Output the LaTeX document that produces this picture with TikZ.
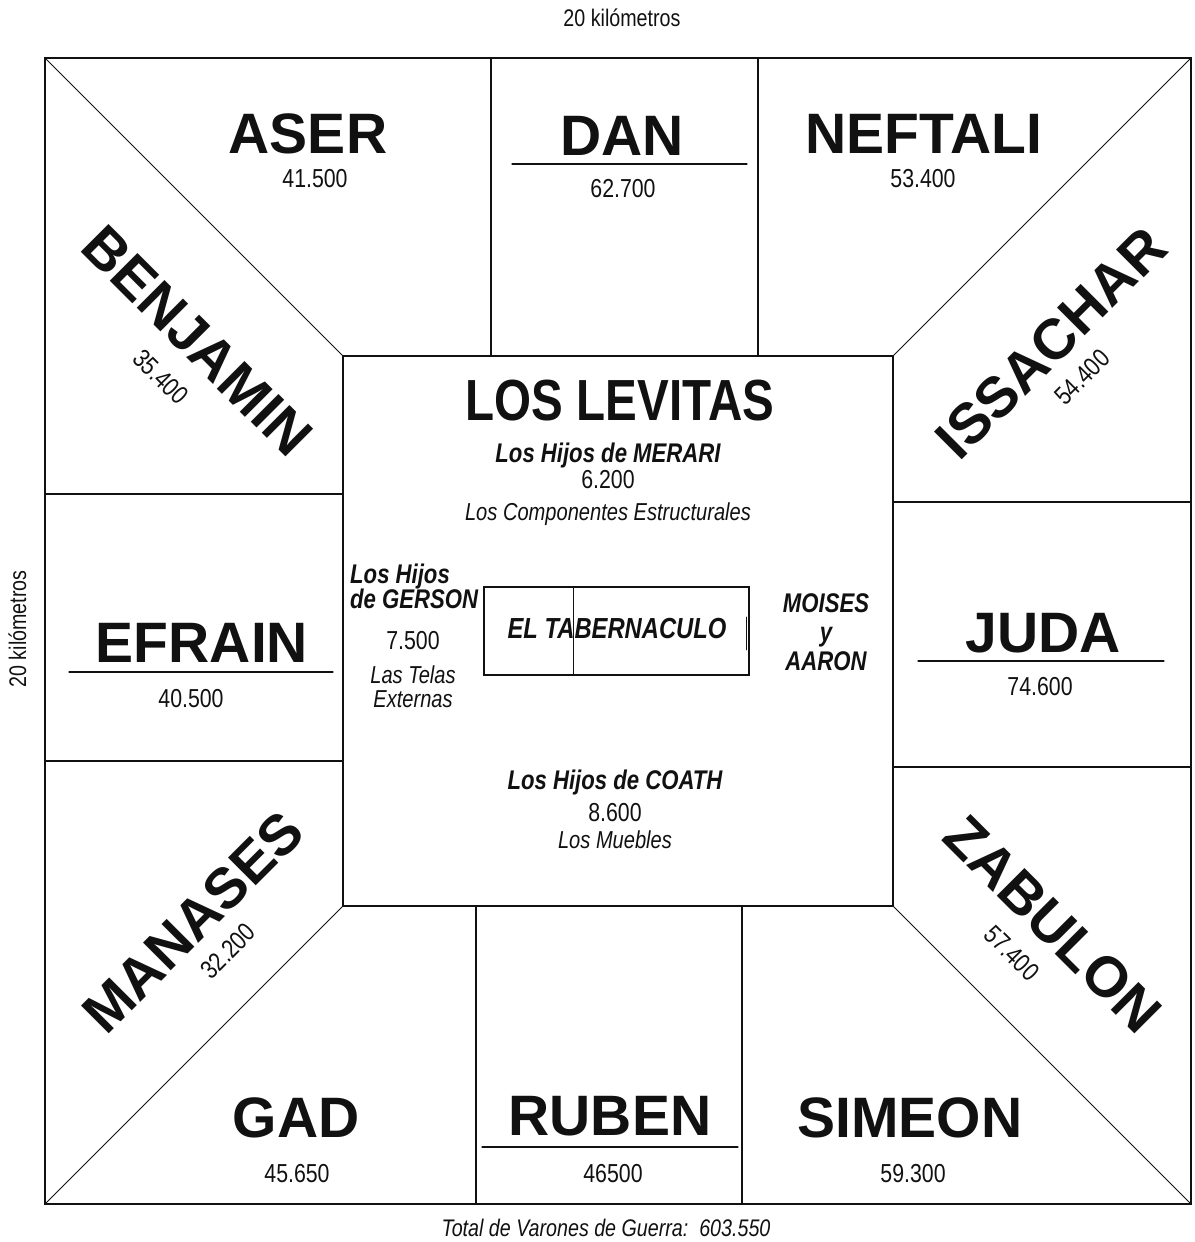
\documentclass[tikz,border=0pt]{standalone}
\usepackage{fontspec}
\setmainfont{Liberation Sans}
\newfontfamily\estreita[FakeStretch=0.82]{Liberation Sans}
\usepackage{tikz}
\usetikzlibrary{calc}
\definecolor{tinta}{HTML}{111111}

\tikzset{
  tribo/.style={font=\fontsize{57}{57}\selectfont\bfseries, inner sep=0pt, text=tinta},
  cifra/.style={font=\estreita\fontsize{26}{26}\selectfont, inner sep=0pt, text=tinta},
  levita/.style={font=\estreita\fontsize{27}{27}\selectfont\bfseries\itshape, inner sep=0pt, text=tinta},
  oficio/.style={font=\estreita\fontsize{24.5}{24.5}\selectfont\itshape, inner sep=0pt, text=tinta},
  medida/.style={font=\estreita\fontsize{24}{24}\selectfont, inner sep=0pt, text=tinta},
  muro/.style={draw=tinta, line width=1.3pt},
}

\begin{document}
\begin{tikzpicture}[x=1pt, y=-1pt, line cap=round]
  \useasboundingbox (0,0) rectangle (1194,1242);
  \coordinate (oNO) at (45,58);   \coordinate (oNE) at (1191,58);
  \coordinate (oSO) at (45,1204); \coordinate (oSE) at (1191,1204);
  \coordinate (iNO) at (343,356); \coordinate (iNE) at (893,356);
  \coordinate (iSO) at (343,906); \coordinate (iSE) at (893,906);
  \draw[tinta, line width=2pt] (oNO) rectangle (oSE);
  \draw[muro, line width=1.6pt] (iNO) rectangle (iSE);
  \foreach \a/\b in {oNO/iNO, oNE/iNE, oSO/iSO, oSE/iSE}{\draw[tinta, line width=1pt] (\a) -- (\b);}
  \foreach \x in {491,758}{\draw[muro] (\x,58) -- (\x,356);}
  \foreach \x in {476,742}{\draw[muro] (\x,906) -- (\x,1204);}
  \foreach \y in {494,761}{\draw[muro] (45,\y) -- (343,\y);}
  \foreach \y in {502,767}{\draw[muro] (893,\y) -- (1191,\y);}
  \foreach \xa/\xb/\y in {512/747/164, 69/333/672, 918/1164/661, 482/738/1147}{\draw[tinta, line width=1.1pt] (\xa,\y) -- (\xb,\y);}

  \foreach \nome/\x/\y/\num/\xn/\yn in {ASER/308/153/41.500/315/187, DAN/622/155/62.700/623/197,
      NEFTALI/924/153/53.400/923/187, EFRAIN/202/662/40.500/191/707, JUDA/1043/652/74.600/1040/695,
      GAD/296/1137/45.650/297/1182, RUBEN/610/1135/46500/613/1182, SIMEON/910/1137/59.300/913/1182}{
    \node[tribo, anchor=base] (\nome) at (\x,\y) {\nome};
    \node[cifra, anchor=base] (\nome-n) at (\xn,\yn) {\num};
  }
  \foreach \nome/\x/\y/\num/\xn/\yn/\ang in {BENJAMIN/197/341/35.400/161/377/-45, ISSACHAR/1051/343/54.400/1082/377/45,
      MANASES/193/922/32.200/228/951/45, ZABULON/1053/924/57.400/1012/953/-45}{
    \node[tribo, rotate=\ang] (\nome) at (\x,\y) {\nome};
    \node[cifra, rotate=\ang] (\nome-n) at (\xn,\yn) {\num};
  }

  \node[font=\estreita\fontsize{58}{58}\selectfont\bfseries, inner sep=0pt, text=tinta, anchor=base] (levitas) at (620,420) {LOS LEVITAS};
  \node[levita, anchor=base] (merari) at (608,462) {Los Hijos de MERARI};
  \node[cifra, anchor=base] (merari-n) at (608,488) {6.200};
  \node[oficio, anchor=base] (merari-o) at (608,520) {Los Componentes Estructurales};
  \node[levita, anchor=base west] (gerson-a) at (350,583) {Los Hijos};
  \node[levita, anchor=base west] (gerson-b) at (350,608) {de GERSON};
  \node[cifra, anchor=base] (gerson-n) at (413,649) {7.500};
  \node[oficio, anchor=base] (gerson-o) at (413,683) {Las Telas};
  \node[oficio, anchor=base] (gerson-p) at (413,707) {Externas};
  \node[levita, anchor=base] (moises) at (826,612) {MOISES};
  \node[levita, anchor=base] (moises-y) at (826,641) {y};
  \node[levita, anchor=base] (aaron) at (826,670) {AARON};
  \node[levita, anchor=base] (coath) at (615,789) {Los Hijos de COATH};
  \node[cifra, anchor=base] (coath-n) at (615,821) {8.600};
  \node[oficio, anchor=base] (coath-o) at (615,848) {Los Muebles};

  \draw[tinta, line width=1.2pt] (484,587) rectangle (749,675);
  \draw[tinta, line width=0.8pt] (573,587) -- (573,675);
  \draw[tinta, line width=0.6pt] (746,617) -- (746,650);
  \node[levita, font=\estreita\fontsize{29}{29}\selectfont\bfseries\itshape, anchor=base] (tabernaculo) at (617,638) {EL TABERNACULO};

  \node[medida, anchor=base] (ancho) at (622,26) {20 kilómetros};
  \node[medida, anchor=base, rotate=90] (alto) at (26,629) {20 kilómetros};
  \node[medida, font=\estreita\fontsize{24}{24}\selectfont\itshape, anchor=base] (total) at (606,1236) {Total de Varones de Guerra:\ \ 603.550};
\end{tikzpicture}
\end{document}
